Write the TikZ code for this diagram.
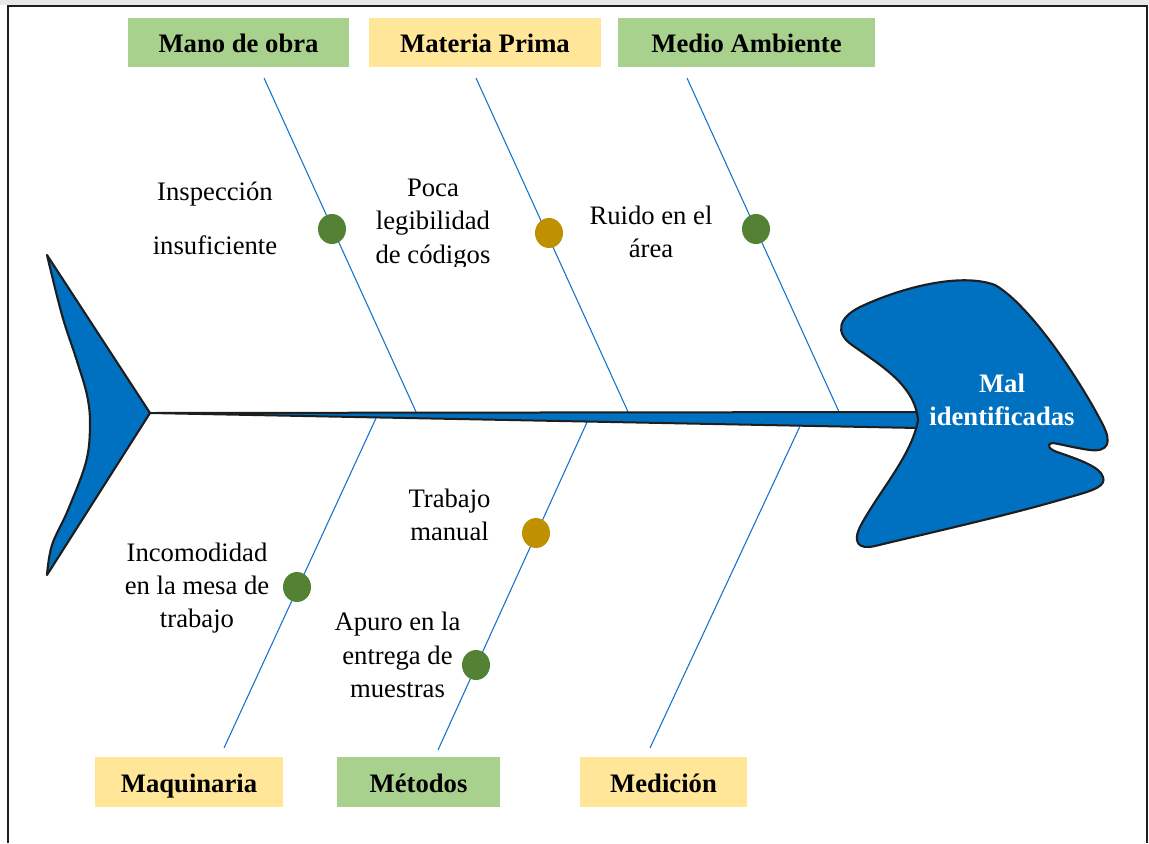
\documentclass[tikz,border=0pt]{standalone}
\usepackage{fontspec}
\setmainfont{Liberation Serif}
\usetikzlibrary{shapes.geometric}
\definecolor{fishblue}{RGB}{0,112,192}
\definecolor{bonecol}{RGB}{20,115,205}
\definecolor{boxgreen}{RGB}{169,209,142}
\definecolor{boxyellow}{RGB}{255,230,153}
\definecolor{dotgreen}{RGB}{84,130,53}
\definecolor{dotgold}{RGB}{191,144,0}
\definecolor{edge}{RGB}{30,30,30}
\tikzset{
  catbox/.style={minimum width=#1, minimum height=37pt, inner sep=0pt,
    text height=15.5pt, text depth=0pt,
    font=\fontsize{20}{24}\selectfont\bfseries},
  cause/.style={inner sep=0pt, align=center, font=\fontsize{20}{25}\selectfont},
  bone/.style={draw=bonecol, line width=0.8pt},
  dot/.style={ellipse, inner sep=0pt, minimum width=21pt, minimum height=22.5pt, fill=#1},
  body/.style={fill=fishblue, draw=edge, line width=1.6pt, line join=round},
}
\begin{document}
\begin{tikzpicture}[x=0.75pt, y=-0.75pt]
\useasboundingbox (0,0) rectangle (1149,843);
\fill[white] (0,0) rectangle (1149,843);
\fill[gray!18] (0,0) rectangle (1149,5);
% page frame
\draw[edge, line width=1.9pt] (8,843) -- (8,6) -- (1147,6) -- (1147,843);

% category boxes
\node[catbox=165.75pt, fill=boxgreen] (mano) at (238.5,42.5) {Mano de obra};
\node[catbox=174pt, fill=boxyellow] (materia) at (485,42.5) {Materia Prima};
\node[catbox=192.75pt, fill=boxgreen] (medio) at (746.5,42.5) {Medio Ambiente};
\node[catbox=141pt, fill=boxyellow] (maq) at (189,782) {Maquinaria};
\node[catbox=122.25pt, fill=boxgreen] (met) at (418.5,782) {Métodos};
\node[catbox=125.25pt, fill=boxyellow] (medi) at (663.5,782) {Medición};

% bone end points
\coordinate (t1a) at (264,78);  \coordinate (t1b) at (417,414);
\coordinate (t2a) at (476,78);  \coordinate (t2b) at (629,414);
\coordinate (t3a) at (687,78);  \coordinate (t3b) at (840,414);
\coordinate (b1a) at (224,748); \coordinate (b1b) at (377,416);
\coordinate (b2a) at (438,750); \coordinate (b2b) at (588,420);
\coordinate (b3a) at (650,748); \coordinate (b3b) at (801,424);

% bones
\draw[bone] (t1a) -- (t1b);
\draw[bone] (t2a) -- (t2b);
\draw[bone] (t3a) -- (t3b);
\draw[bone] (b1a) -- (b1b);
\draw[bone] (b2a) -- (b2b);
\draw[bone] (b3a) -- (b3b);

% spine
\draw[body, line width=1.5pt] (150,413) -- (918,412) -- (918,428) -- cycle;

% tail
\draw[body] (47,255) -- (150,413) -- (47,575)
  -- plot[smooth, tension=0.6] coordinates {(47,575) (52,545) (68,510) (86,462) (90,425) (87,395) (76,358) (62,315) (47,255)}
  -- cycle;

% head
\draw[body] (918,420)
  .. controls (915,385) and (880,365) .. (852,345)
  .. controls (835,333) and (838,318) .. (860,307)
  .. controls (900,288) and (960,272) .. (995,285)
  .. controls (1030,305) and (1080,380) .. (1103,425)
  .. controls (1112,443) and (1108,452) .. (1090,450)
  .. controls (1075,448) and (1060,444) .. (1053,443)
  .. controls (1045,444) and (1049,450) .. (1060,453)
  .. controls (1080,460) and (1100,467) .. (1103,477)
  .. controls (1106,486) and (1095,490) .. (1070,497)
  .. controls (1010,515) and (920,535) .. (875,546)
  .. controls (858,550) and (852,542) .. (861,525)
  .. controls (880,490) and (912,455) .. (918,420) -- cycle;
\node[cause, text=white, font=\fontsize{20}{25}\selectfont\bfseries] (effect) at (1002,400) {Mal\\identificadas};

% cause markers
\node[dot=dotgreen] (d1) at (332,229) {};
\node[dot=dotgold]  (d2) at (549,233) {};
\node[dot=dotgreen] (d3) at (756,229) {};
\node[dot=dotgreen] (d4) at (297,587) {};
\node[dot=dotgold]  (d5) at (536,533) {};
\node[dot=dotgreen] (d6) at (476,665) {};

% causes
\node[cause] (c1) at (215,218) {Inspección\\[15.5pt]insuficiente};
\begin{scope}
  \clip (340,150) rectangle (530,266);
  \node[cause] (c2) at (433,224) {Poca\\legibilidad\\de códigos};
\end{scope}
\node[cause] (c3) at (651,232) {Ruido en el\\área};
\node[cause] (c4) at (449.5,515) {Trabajo\\manual};
\node[cause] (c5) at (197,588) {Incomodidad\\en la mesa de\\trabajo};
\node[cause] (c6) at (397.5,655) {Apuro en la\\entrega de\\muestras};
\end{tikzpicture}
\end{document}
